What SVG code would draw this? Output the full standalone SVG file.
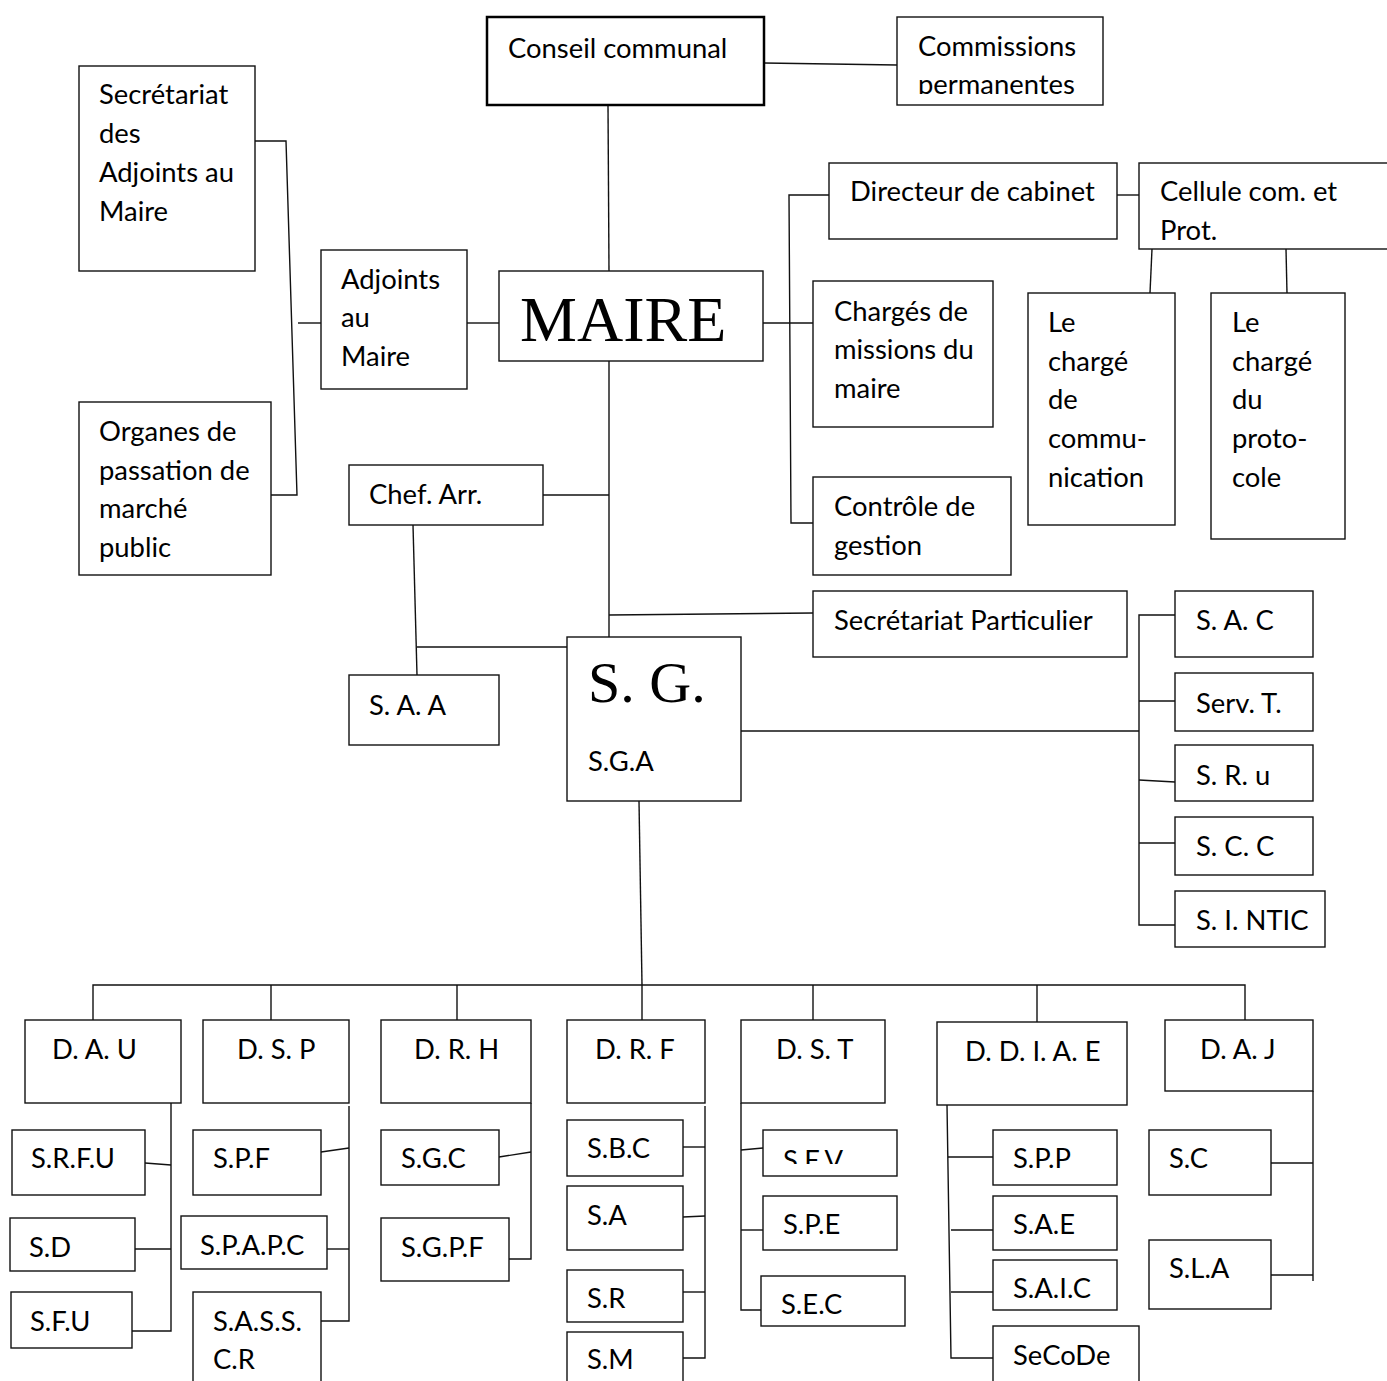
<svg xmlns="http://www.w3.org/2000/svg" width="1387" height="1381" viewBox="0 0 1387 1381">
<style>
.b{fill:#fff;stroke:#111;stroke-width:1.4}
.bk{fill:#fff;stroke:#000;stroke-width:2.5}
.t{font-family:Lato,"Liberation Sans",sans-serif;font-size:27.4px;fill:#000}
.big{font-family:"Liberation Serif","Times New Roman",serif;fill:#000}
.c{fill:none;stroke:#111;stroke-width:1.4}
</style>
<defs>
<clipPath id="clipPerm"><rect x="897" y="17" width="206" height="77"/></clipPath>
<clipPath id="clipSEV"><rect x="763" y="1130" width="134" height="34"/></clipPath>
</defs>
<rect width="1387" height="1381" fill="#fff"/>
<g id="connectors">
<polyline class="c" points="764,63 897,65"/>
<polyline class="c" points="608,105 609,271"/>
<polyline class="c" points="255,141 286,141 297,495 271,495"/>
<polyline class="c" points="298,323 321,323"/>
<polyline class="c" points="467,323 499,323"/>
<polyline class="c" points="763,323 813,323"/>
<polyline class="c" points="829,195 789,195 791,523 813,523"/>
<polyline class="c" points="1117,195 1139,195"/>
<polyline class="c" points="1152,249 1150,293"/>
<polyline class="c" points="1286,249 1287,293"/>
<polyline class="c" points="609,361 609,637"/>
<polyline class="c" points="543,495 609,495"/>
<polyline class="c" points="413,525 417,675"/>
<polyline class="c" points="417,647 567,647"/>
<polyline class="c" points="609,615 813,613"/>
<polyline class="c" points="741,731 1139,731"/>
<polyline class="c" points="1175,615 1139,615 1139,925 1175,925"/>
<polyline class="c" points="1139,701 1175,701"/>
<polyline class="c" points="1139,780 1175,782"/>
<polyline class="c" points="1139,843 1175,843"/>
<polyline class="c" points="639,801 642,985"/>
<polyline class="c" points="93,1020 93,985 1245,985 1245,1020"/>
<polyline class="c" points="271,985 271,1020"/>
<polyline class="c" points="457,985 457,1020"/>
<polyline class="c" points="642,985 642,1020"/>
<polyline class="c" points="813,985 813,1020"/>
<polyline class="c" points="1037,985 1037,1022"/>
<polyline class="c" points="171,1103 171,1331 132,1331"/>
<polyline class="c" points="145,1163 171,1165"/>
<polyline class="c" points="135,1249 171,1249"/>
<polyline class="c" points="349,1106 349,1321 321,1321"/>
<polyline class="c" points="321,1152 349,1148"/>
<polyline class="c" points="327,1249 349,1249"/>
<polyline class="c" points="531,1103 531,1259 509,1259"/>
<polyline class="c" points="499,1157 531,1152"/>
<polyline class="c" points="705,1106 705,1358 683,1358"/>
<polyline class="c" points="683,1147 705,1147"/>
<polyline class="c" points="683,1217 705,1216"/>
<polyline class="c" points="683,1292 705,1292"/>
<polyline class="c" points="741,1103 741,1310 763,1310"/>
<polyline class="c" points="741,1150 763,1148"/>
<polyline class="c" points="741,1230 763,1230"/>
<polyline class="c" points="947,1105 951,1358 993,1358"/>
<polyline class="c" points="948,1157 993,1157"/>
<polyline class="c" points="951,1230 993,1230"/>
<polyline class="c" points="951,1292 993,1292"/>
<polyline class="c" points="1313,1091 1313,1281"/>
<polyline class="c" points="1271,1163 1313,1163"/>
<polyline class="c" points="1271,1275 1313,1275"/>
</g>
<g id="conseil"><rect class="bk" x="487" y="17" width="277" height="88"/><text class="t" x="508" y="58">Conseil communal</text></g>
<g id="commissions"><rect class="b" x="897" y="17" width="206" height="88"/><text class="t" x="918" y="56" clip-path="url(#clipPerm)">Commissions<tspan x="918" y="94">permanentes</tspan></text></g>
<g id="secretariat-adjoints"><rect class="b" x="79" y="66" width="176" height="205"/><text class="t" x="99" y="104">Secrétariat<tspan x="99" y="143">des</tspan><tspan x="99" y="182">Adjoints au</tspan><tspan x="99" y="221">Maire</tspan></text></g>
<g id="organes"><rect class="b" x="79" y="402" width="192" height="173"/><text class="t" x="99" y="441">Organes de<tspan x="99" y="480">passation de</tspan><tspan x="99" y="518">marché</tspan><tspan x="99" y="557">public</tspan></text></g>
<g id="adjoints"><rect class="b" x="321" y="250" width="146" height="139"/><text class="t" x="341" y="289">Adjoints<tspan x="341" y="327">au</tspan><tspan x="341" y="366">Maire</tspan></text></g>
<g id="maire"><rect class="b" x="499" y="271" width="264" height="90"/><text class="big" x="520" y="341" font-size="64">MAIRE</text></g>
<g id="directeur"><rect class="b" x="829" y="163" width="288" height="76"/><text class="t" x="850" y="201">Directeur de cabinet</text></g>
<g id="cellule"><rect class="b" x="1139" y="163" width="260" height="86"/><text class="t" x="1160" y="201">Cellule com. et<tspan x="1160" y="240">Prot.</tspan></text></g>
<g id="charges-missions"><rect class="b" x="813" y="281" width="180" height="146"/><text class="t" x="834" y="321">Chargés de<tspan x="834" y="359">missions du</tspan><tspan x="834" y="398">maire</tspan></text></g>
<g id="charge-communication"><rect class="b" x="1028" y="293" width="147" height="232"/><text class="t" x="1048" y="332">Le<tspan x="1048" y="371">chargé</tspan><tspan x="1048" y="409">de</tspan><tspan x="1048" y="448">commu-</tspan><tspan x="1048" y="487">nication</tspan></text></g>
<g id="charge-protocole"><rect class="b" x="1211" y="293" width="134" height="246"/><text class="t" x="1232" y="332">Le<tspan x="1232" y="371">chargé</tspan><tspan x="1232" y="409">du</tspan><tspan x="1232" y="448">proto-</tspan><tspan x="1232" y="487">cole</tspan></text></g>
<g id="controle"><rect class="b" x="813" y="477" width="198" height="98"/><text class="t" x="834" y="516">Contrôle de<tspan x="834" y="555">gestion</tspan></text></g>
<g id="chef-arr"><rect class="b" x="349" y="465" width="194" height="60"/><text class="t" x="369" y="504">Chef. Arr.</text></g>
<g id="saa"><rect class="b" x="349" y="675" width="150" height="70"/><text class="t" x="369" y="715">S. A. A</text></g>
<g id="sec-particulier"><rect class="b" x="813" y="591" width="314" height="66"/><text class="t" x="834" y="630">Secrétariat Particulier</text></g>
<g id="sg"><rect class="b" x="567" y="637" width="174" height="164"/><text class="big" x="588" y="702" font-size="58">S. G.</text><text class="t" x="588" y="771">S.G.A</text></g>
<g id="sac"><rect class="b" x="1175" y="591" width="138" height="66"/><text class="t" x="1196" y="630">S. A. C</text></g>
<g id="servt"><rect class="b" x="1175" y="673" width="138" height="58"/><text class="t" x="1196" y="713">Serv. T.</text></g>
<g id="sru"><rect class="b" x="1175" y="745" width="138" height="56"/><text class="t" x="1196" y="785">S. R. u</text></g>
<g id="scc"><rect class="b" x="1175" y="817" width="138" height="58"/><text class="t" x="1196" y="856">S. C. C</text></g>
<g id="sintic"><rect class="b" x="1175" y="891" width="150" height="56"/><text class="t" x="1196" y="930">S. I. NTIC</text></g>
<g id="dau"><rect class="b" x="25" y="1020" width="156" height="83"/><text class="t" x="52" y="1059">D. A. U</text></g>
<g id="dsp"><rect class="b" x="203" y="1020" width="146" height="83"/><text class="t" x="237" y="1059">D. S. P</text></g>
<g id="drh"><rect class="b" x="381" y="1020" width="150" height="83"/><text class="t" x="414" y="1059">D. R. H</text></g>
<g id="drf"><rect class="b" x="567" y="1020" width="138" height="83"/><text class="t" x="595" y="1059">D. R. F</text></g>
<g id="dst"><rect class="b" x="741" y="1020" width="144" height="83"/><text class="t" x="776" y="1059">D. S. T</text></g>
<g id="ddiae"><rect class="b" x="937" y="1022" width="190" height="83"/><text class="t" x="965" y="1061">D. D. I. A. E</text></g>
<g id="daj"><rect class="b" x="1165" y="1020" width="148" height="71"/><text class="t" x="1200" y="1059">D. A. J</text></g>
<g id="srfu"><rect class="b" x="12" y="1130" width="133" height="65"/><text class="t" x="31" y="1168">S.R.F.U</text></g>
<g id="sd"><rect class="b" x="10" y="1218" width="125" height="53"/><text class="t" x="29" y="1257">S.D</text></g>
<g id="sfu"><rect class="b" x="11" y="1292" width="121" height="56"/><text class="t" x="30" y="1331">S.F.U</text></g>
<g id="spf"><rect class="b" x="193" y="1130" width="128" height="65"/><text class="t" x="213" y="1168">S.P.F</text></g>
<g id="spapc"><rect class="b" x="181" y="1216" width="146" height="53"/><text class="t" x="200" y="1255">S.P.A.P.C</text></g>
<g id="sasscr"><rect class="b" x="193" y="1292" width="128" height="100"/><text class="t" x="213" y="1331">S.A.S.S.<tspan x="213" y="1369">C.R</tspan></text></g>
<g id="sgc"><rect class="b" x="381" y="1130" width="118" height="55"/><text class="t" x="401" y="1168">S.G.C</text></g>
<g id="sgpf"><rect class="b" x="381" y="1218" width="128" height="63"/><text class="t" x="401" y="1257">S.G.P.F</text></g>
<g id="sbc"><rect class="b" x="567" y="1120" width="116" height="56"/><text class="t" x="587" y="1158">S.B.C</text></g>
<g id="sa"><rect class="b" x="567" y="1186" width="116" height="64"/><text class="t" x="587" y="1225">S.A</text></g>
<g id="sr"><rect class="b" x="567" y="1270" width="116" height="52"/><text class="t" x="587" y="1308">S.R</text></g>
<g id="sm"><rect class="b" x="567" y="1332" width="116" height="60"/><text class="t" x="587" y="1369">S.M</text></g>
<g id="sev"><rect class="b" x="763" y="1130" width="134" height="46"/><text class="t" x="783" y="1170" clip-path="url(#clipSEV)">S.E.V</text></g>
<g id="spe"><rect class="b" x="763" y="1196" width="134" height="54"/><text class="t" x="783" y="1234">S.P.E</text></g>
<g id="sec"><rect class="b" x="761" y="1276" width="144" height="50"/><text class="t" x="781" y="1314">S.E.C</text></g>
<g id="spp"><rect class="b" x="993" y="1130" width="124" height="55"/><text class="t" x="1013" y="1168">S.P.P</text></g>
<g id="sae"><rect class="b" x="993" y="1196" width="124" height="54"/><text class="t" x="1013" y="1234">S.A.E</text></g>
<g id="saic"><rect class="b" x="993" y="1260" width="124" height="50"/><text class="t" x="1013" y="1298">S.A.I.C</text></g>
<g id="secode"><rect class="b" x="993" y="1326" width="146" height="66"/><text class="t" x="1013" y="1365">SeCoDe</text></g>
<g id="sc"><rect class="b" x="1149" y="1130" width="122" height="65"/><text class="t" x="1169" y="1168">S.C</text></g>
<g id="sla"><rect class="b" x="1149" y="1240" width="122" height="69"/><text class="t" x="1169" y="1278">S.L.A</text></g>
</svg>
